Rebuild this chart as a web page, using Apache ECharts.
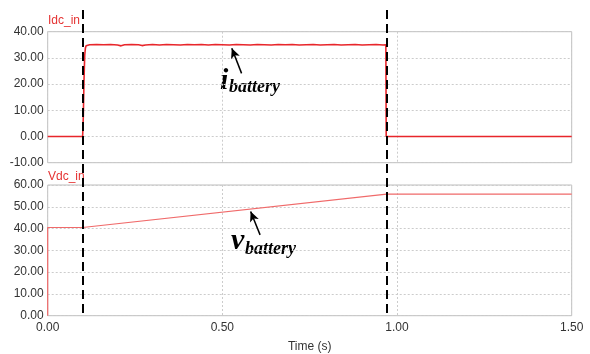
<!DOCTYPE html>
<html>
<head>
<meta charset="utf-8">
<script src="https://cdn.jsdelivr.net/npm/echarts@6/dist/echarts.min.js"></script>
<style>html,body{margin:0;padding:0;background:#fff}#c{width:590px;height:354px}</style>
</head>
<body>
<div id="c"></div>
<script>
const currentTime = [0, 0.1, 0.102, 0.104, 0.106, 0.108, 0.11, 0.12, 0.14, 0.16, 0.18, 0.20, 0.21, 0.22, 0.24, 0.26, 0.27, 0.28, 0.30, 0.32, 0.34, 0.36, 0.38, 0.40, 0.42, 0.44, 0.46, 0.48, 0.50, 0.52, 0.54, 0.56, 0.58, 0.60, 0.62, 0.64, 0.66, 0.68, 0.70, 0.72, 0.74, 0.76, 0.78, 0.80, 0.82, 0.84, 0.86, 0.88, 0.90, 0.92, 0.94, 0.96, 0.968, 0.969, 1.5];
const currentValues = [0, 0, 8, 22, 31, 33.8, 34.6, 35.0, 35.1, 35.0, 35.1, 34.9, 34.6, 35.0, 35.1, 35.0, 34.7, 34.9, 35.1, 34.9, 35.1, 35.0, 34.9, 35.1, 35.0, 35.1, 34.9, 35.1, 35.0, 34.9, 35.1, 35.0, 34.9, 35.1, 35.0, 34.9, 35.1, 35.0, 35.1, 34.9, 35.0, 35.1, 34.9, 35.0, 35.1, 34.9, 35.0, 35.1, 34.9, 35.0, 35.1, 34.9, 35.0, 0, 0];
const voltageTime = [0, 0, 0.1, 0.97, 1.5];
const voltageValues = [0, 40.5, 40.5, 55.8, 55.8];
const eventTimes = [0.1, 0.97];
const xTicks = [0, 0.5, 1.0, 1.5];
const iArrow = [[0.555, 24.1], [0.527, 33.7]];
const vArrow = [[0.608, 37.1], [0.581, 47.8]];

const chart = echarts.init(document.getElementById('c'));
const L = 47.7, W = 524;
const font = '"Liberation Sans", Arial, sans-serif';
const axisLabel = {color: '#333', fontSize: 12, fontFamily: font, formatter: v => v.toFixed(2)};
const split = {show: true, lineStyle: {color: '#cccccc', type: [2, 2], width: 1}};
function xAxis(idx, showLabels) {
  return {
    type: 'value', gridIndex: idx, min: 0, max: 1.5, interval: 0.5,
    axisLine: {show: false}, axisTick: {show: false},
    axisLabel: Object.assign({show: showLabels, margin: 6}, axisLabel),
    splitLine: split,
    name: showLabels ? 'Time (s)' : '', nameLocation: 'middle', nameGap: 25,
    nameTextStyle: {color: '#333', fontSize: 12, fontFamily: font}
  };
}
const zip = (a, b) => a.map((t, i) => [t, b[i]]);
chart.setOption({
  animation: false,
  grid: [
    {left: L, top: 31.7, width: W, height: 131, show: true, borderColor: '#bdbdbd', borderWidth: 1},
    {left: L, top: 185, width: W, height: 130.7, show: true, borderColor: '#bdbdbd', borderWidth: 1},
    {left: L, top: 7, width: W, height: 306}
  ],
  xAxis: [xAxis(0, false), xAxis(1, true),
    {type: 'value', gridIndex: 2, min: 0, max: 1.5, show: false}],
  yAxis: [
    {type: 'value', gridIndex: 0, min: -10, max: 40, interval: 10, axisLine: {show: false}, axisTick: {show: false}, axisLabel: Object.assign({margin: 4}, axisLabel), splitLine: split},
    {type: 'value', gridIndex: 1, min: 0, max: 60, interval: 10, axisLine: {show: false}, axisTick: {show: false}, axisLabel: Object.assign({margin: 4}, axisLabel), splitLine: split},
    {type: 'value', gridIndex: 2, min: 0, max: 1, show: false}
  ],
  series: [
    {type: 'line', xAxisIndex: 0, yAxisIndex: 0, data: zip(currentTime, currentValues), showSymbol: false,
      lineStyle: {color: '#e8262b', width: 1.6}, z: 3,
      markLine: {silent: true, symbol: ['none', 'arrow'], symbolSize: [7, 10], label: {show: false},
        lineStyle: {color: '#000', width: 1.5, type: 'solid'},
        data: [[{coord: iArrow[0]}, {coord: iArrow[1]}]]}},
    {type: 'line', xAxisIndex: 1, yAxisIndex: 1, data: zip(voltageTime, voltageValues), showSymbol: false,
      lineStyle: {color: '#f06a6a', width: 1.2}, z: 3,
      markLine: {silent: true, symbol: ['none', 'arrow'], symbolSize: [7, 10], label: {show: false},
        lineStyle: {color: '#000', width: 1.5, type: 'solid'},
        data: [[{coord: vArrow[0]}, {coord: vArrow[1]}]]}},
    {type: 'line', xAxisIndex: 2, yAxisIndex: 2, data: [], z: 5,
      markLine: {silent: true, symbol: ['none', 'none'], label: {show: false},
        lineStyle: {color: '#000', width: 2, type: [9, 5]},
        data: eventTimes.map(t => ({xAxis: t}))}}
  ],
  graphic: [
    {type: 'text', left: 48, top: 15, style: {text: 'Idc_in', fill: '#e53333', font: '12px ' + font}},
    {type: 'text', left: 48, top: 171, style: {text: 'Vdc_in', fill: '#e53333', font: '12px ' + font}},
    {type: 'text', left: 220, top: 66, style: {text: 'i', fill: '#000', font: 'italic bold 30px "Liberation Serif", "Times New Roman", serif'}},
    {type: 'text', left: 229, top: 78, style: {text: 'battery', fill: '#000', font: 'italic bold 18px "Liberation Serif", "Times New Roman", serif'}},
    {type: 'text', left: 231, top: 226, style: {text: 'v', fill: '#000', font: 'italic bold 30px "Liberation Serif", "Times New Roman", serif'}},
    {type: 'text', left: 245, top: 240, style: {text: 'battery', fill: '#000', font: 'italic bold 18px "Liberation Serif", "Times New Roman", serif'}}
  ]
});
</script>
</body>
</html>
